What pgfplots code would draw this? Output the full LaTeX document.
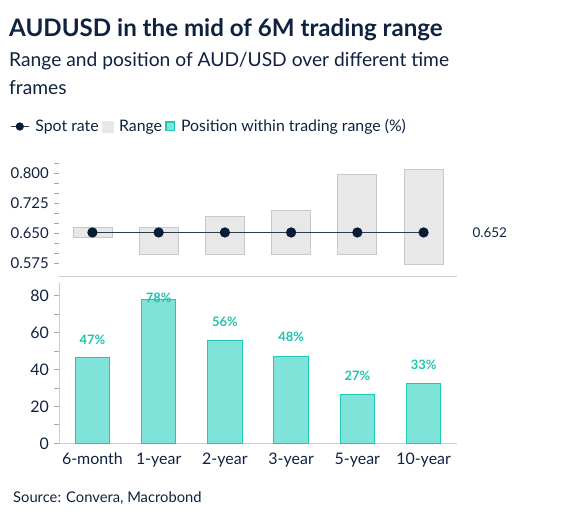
\documentclass[border=0pt]{standalone}
\usepackage{pgfplots}
\pgfplotsset{compat=1.18}
\usepackage{pgfplotstable}
\usepackage{fontspec}
\setmainfont{Lato}
\definecolor{navy}{HTML}{0E2240}
\definecolor{tickgray}{HTML}{A6A6A6}
\definecolor{axgray}{HTML}{CDCDCD}
\definecolor{rangefill}{HTML}{E8E8E8}
\definecolor{rangedraw}{HTML}{C8C8C8}
\definecolor{tealfill}{HTML}{80E3D9}
\definecolor{tealdraw}{HTML}{1FC8B4}
\definecolor{teallab}{HTML}{1CC4AE}
\definecolor{spotline}{HTML}{2E3B4B}
\definecolor{spotdot}{HTML}{071D35}

\pgfplotsset{
  spotlegend/.style={legend image code/.code={\draw[mark repeat=2,mark phase=2,##1, mark size=3.5bp] plot coordinates {(0bp,0bp) (9bp,0bp) (18bp,0bp)};}},
}

\pgfplotstableread{
x low diff spot
0 0.6390 0.0250 0.652
1 0.5980 0.0660 0.652
2 0.5980 0.0935 0.652
3 0.5980 0.1100 0.652
4 0.5980 0.1995 0.652
5 0.5725 0.2375 0.652
}\rangedata

\pgfplotstableread{
x pos laby lab
0 46.6 53.8 47\%
1 78.0 76.4 78\%
2 55.8 63.2 56\%
3 47.3 55.1 48\%
4 26.6 33.9 27\%
5 32.5 40.1 33\%
}\posdata

\begin{document}
\begin{tikzpicture}[x=1bp,y=1bp]
\useasboundingbox (0,0) rectangle (566,-521);
\node[anchor=base west, inner sep=0, text=navy, font=\fontsize{24.2}{28}\selectfont\bfseries] at (9,-36.7) {AUDUSD in the mid of 6M trading range};
\node[anchor=base west, inner sep=0, text=navy, font=\fontsize{19.3}{28}\selectfont] at (9,-66.7) {Range and position of AUD/USD over different time};
\node[anchor=base west, inner sep=0, text=navy, font=\fontsize{19.3}{28}\selectfont] at (9,-95) {frames};
\node[anchor=base west, inner sep=0, text=navy, font=\fontsize{14.8}{16}\selectfont] at (13,-502.7) {Source: Convera, Macrobond};

% range bars (background)
\begin{axis}[
  at={(59.3bp,-276.7bp)}, anchor=south west,
  scale only axis, width=397.4bp, height=116.7bp,
  xmin=-0.5, xmax=5.5, ymin=0.5415, ymax=0.833,
  axis lines=none, ybar stacked, bar width=39bp,
]
\addplot[draw=none, fill=none] table[x=x, y=low] {\rangedata};
\addplot[draw=rangedraw, fill=rangefill, line width=0.8bp] table[x=x, y=diff] {\rangedata};
\end{axis}

% spot rate axis
\begin{axis}[
  at={(59.3bp,-276.7bp)}, anchor=south west,
  scale only axis, width=397.4bp, height=116.7bp,
  xmin=-0.5, xmax=5.5, ymin=0.5415, ymax=0.833,
  clip mode=individual,
  axis x line*=bottom, axis y line*=left,
  x axis line style={draw=axgray, line width=1bp, -},
  y axis line style={draw=none},
  xtick=\empty,
  ytick={0.575,0.650,0.725,0.800},
  minor ytick={0.600,0.625,0.675,0.700,0.750,0.775,0.825},
  tick align=outside, major tick length=5bp, minor tick length=5bp,
  every tick/.style={draw=tickgray, line width=0.8bp},
  yticklabel style={text=navy, font=\fontsize{15}{18}\selectfont, xshift=-2bp},
  /pgf/number format/.cd, fixed, fixed zerofill, precision=3, assume math mode=true,
  /pgfplots/.cd,
  legend columns=-1,
  legend style={draw=none, fill=none, inner sep=0pt, at={(-0.12406,1.2871)}, anchor=west,
    font=\fontsize{15.9}{18}\selectfont, text=navy,
    nodes={inner sep=0pt},
    /tikz/every even column/.append style={column sep=3bp},
    /tikz/every odd column/.append style={column sep=6bp}},
  legend cell align=left,
]
\addplot[color=spotline, line width=1.2bp, mark=*, mark size=4.5bp,
  mark options={fill=spotdot, draw=spotdot}, spotlegend]
  table[x=x, y=spot] {\rangedata};
\addlegendentry{Spot rate}
\addlegendimage{legend image code/.code={\fill[rangefill] (0bp,-5.5bp) rectangle (11bp,5.5bp);}}
\addlegendentry{Range}
\addlegendimage{legend image code/.code={\fill[tealfill, draw=tealdraw, line width=1.5bp] (0.75bp,-4.25bp) rectangle (9.25bp,4.25bp);}}
\addlegendentry{Position within trading range (\%)}
\node[anchor=center, text=navy, font=\fontsize{13.5}{16}\selectfont] at (axis cs:6.0,0.652) {0.652};
\end{axis}

% position axis
\begin{axis}[
  at={(59.3bp,-443.3bp)}, anchor=south west,
  scale only axis, width=397.4bp, height=160.3bp,
  xmin=-0.5, xmax=5.5, ymin=0, ymax=86.9,
  clip=false,
  axis x line*=bottom, axis y line*=left,
  axis line style={draw=axgray, line width=1.2bp, -},
  xtick={0,1,2,3,4,5},
  xticklabels={6-month,1-year,2-year,3-year,5-year,10-year},
  x tick style={draw=none},
  extra x ticks={-0.5,0.5,1.5,2.5,3.5,4.5,5.5},
  extra x tick labels={},
  extra x tick style={major tick length=7bp, tick align=outside, every tick/.style={draw=tickgray, line width=0.8bp}},
  ytick={0,20,40,60,80},
  minor ytick={10,30,50,70},
  y tick style={draw=tickgray, line width=0.8bp},
  tick align=outside, major tick length=5bp, minor tick length=5bp,
  xticklabel style={text=navy, font=\fontsize{16}{18}\selectfont, yshift=-1bp},
  yticklabel style={text=navy, font=\fontsize{16}{18}\selectfont, xshift=-2bp},
  /pgf/number format/assume math mode=true,
]
\addplot[ybar, bar width=34.5bp, fill=tealfill, draw=tealdraw, line width=1bp] table[x=x, y=pos] {\posdata};
\addplot[draw=none, mark=none, nodes near coords, point meta=explicit symbolic,
  nodes near coords style={anchor=base, inner sep=0pt, text=teallab, font=\fontsize{13}{15}\selectfont\bfseries}]
  table[x=x, y=laby, meta=lab] {\posdata};
\end{axis}
\end{tikzpicture}
\end{document}
